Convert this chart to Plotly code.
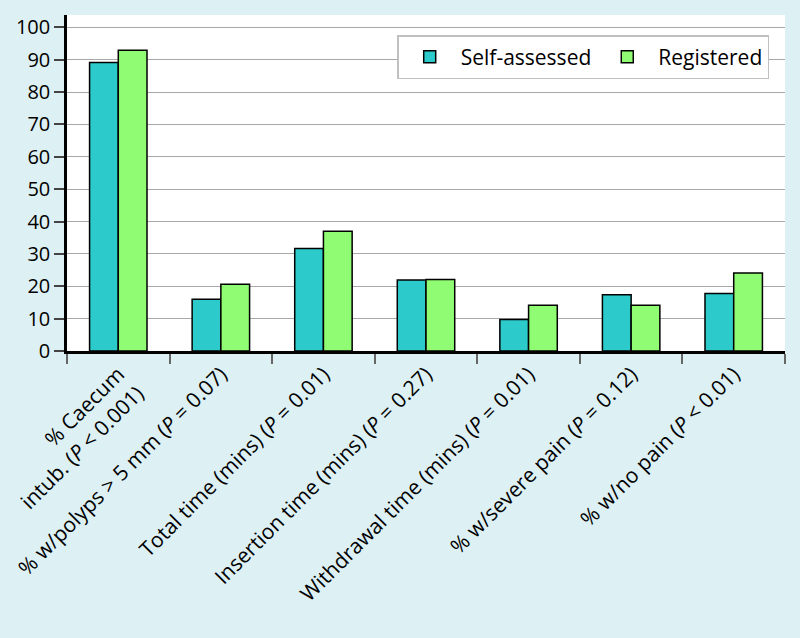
import plotly.graph_objects as go

categories = [
    "% Caecum<br>intub. (<i>P</i> < 0.001)",
    "% w/polyps > 5 mm (<i>P</i> = 0.07)",
    "Total time (mins) (<i>P</i> = 0.01)",
    "Insertion time (mins) (<i>P</i> = 0.27)",
    "Withdrawal time (mins) (<i>P</i> = 0.01)",
    "% w/severe pain (<i>P</i> = 0.12)",
    "% w/no pain (<i>P</i> < 0.01)",
]
self_assessed = [89.1, 16.0, 31.7, 21.9, 9.7, 17.4, 17.8]
registered = [92.9, 20.6, 37.0, 22.1, 14.1, 14.1, 24.1]

FONT = "Open Sans"
bg = "#ddf0f3"

fig = go.Figure()
fig.add_trace(go.Bar(
    name="Self-assessed", x=categories, y=self_assessed,
    marker=dict(color="#2ccaca", line=dict(color="black", width=1.5)),
))
fig.add_trace(go.Bar(
    name="Registered", x=categories, y=registered,
    marker=dict(color="#90fc73", line=dict(color="black", width=1.5)),
))

fig.update_layout(
    width=800, height=638,
    margin=dict(l=67, r=15, t=15, b=287),
    paper_bgcolor=bg, plot_bgcolor="white",
    font=dict(family=FONT, size=20, color="black"),
    barmode="group", bargap=0.44, bargroupgap=0,
    showlegend=True,
    legend=dict(
        orientation="h", x=0.978, xanchor="right", y=0.94, yanchor="top",
        bgcolor="white", bordercolor="#c0c0c0", borderwidth=1.5,
        font=dict(size=21), itemwidth=52, traceorder="normal",
    ),
)
fig.update_xaxes(
    automargin=False,
    showline=True, linecolor="black", linewidth=2.5,
    ticks="outside", tickson="boundaries", ticklen=10, tickcolor="#666666", tickwidth=1.5,
    tickangle=-45, tickfont=dict(size=21), showgrid=False,
)
fig.update_yaxes(
    automargin=False,
    range=[0, 103.8], dtick=10, tick0=0,
    showline=True, linecolor="black", linewidth=2.5,
    ticks="outside", ticklen=10, tickcolor="#444444", tickwidth=1.5,
    showgrid=True, gridcolor="#a8a8a8", gridwidth=1.2,
    zeroline=False, tickfont=dict(size=20),
)

# page body has a default 8px margin; drop it so the figure fills the window
fig.write_html(
    "out.html",
    config={"displayModeBar": False},
    post_script="document.body.style.margin='0';document.body.style.background='%s';" % bg,
)
